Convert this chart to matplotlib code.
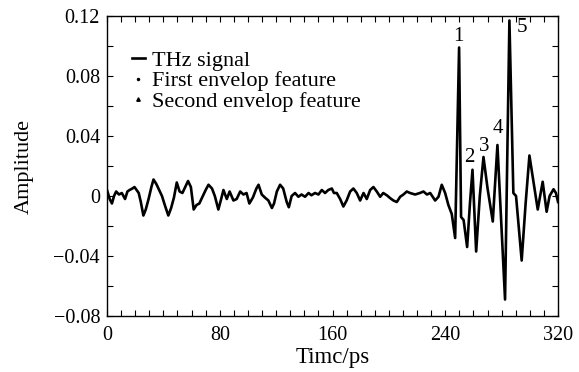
import matplotlib
matplotlib.use("Agg")
import matplotlib.pyplot as plt
from matplotlib.ticker import MultipleLocator

plt.rcParams['font.family'] = ['Liberation Serif', 'DejaVu Serif']
plt.rcParams['font.size'] = 14.5

# THz time-domain signal (time in ps, amplitude)
tiempo = [0, 1.9, 3.5, 5, 6.5, 8.5, 10.5, 12.8, 14.5, 16, 18, 19.5, 21, 22.5, 24,
          25.8, 27.5, 29.5, 31.5, 33, 35, 37, 39, 41, 43.5, 45.5, 47.5, 49.5, 51.5,
          53.5, 55.5, 57.5, 59.5, 61.5, 63.5, 65.5, 67.5, 70, 72, 74.5, 76.5, 79,
          81, 82.6, 85, 87, 89.7, 92, 94.5, 96.8, 99, 101, 103.5, 106, 107.5,
          109.8, 112, 114.5, 117, 118.5, 120.5, 122.8, 125, 127.5, 129, 131,
          133.4, 135.8, 138, 140.5, 143, 145, 147.6, 150, 152.4, 154.7, 157,
          159.5, 161, 163, 165.4, 167.7, 170, 172.5, 174.8, 177.2, 179.6, 182,
          184.3, 186.7, 189, 191.4, 193.8, 196, 198.5, 201, 203.2, 205.6, 208,
          210.3, 212.7, 215, 218.6, 222, 224.5, 227, 229.3, 232.8, 235.2, 237.5,
          239.9, 242.2, 244.6, 247, 249.8, 251.2, 253, 255.5, 257.5, 259.3,
          261.9, 264.5, 267.1, 270, 273.7, 277, 282.4, 285.5, 288.3, 290.2,
          294.2, 297, 299.7, 302.5, 305.6, 309.1, 311.9, 314, 316.8, 318.5, 320]
amplitud = [0.004, -0.002, -0.005, 0.000, 0.003, 0.001, 0.002, -0.002, 0.003, 0.004,
            0.005, 0.006, 0.004, 0.002, -0.004, -0.013, -0.009, -0.002, 0.006, 0.011,
            0.008, 0.004, 0.000, -0.006, -0.013, -0.008, -0.001, 0.009, 0.003, 0.002,
            0.006, 0.010, 0.006, -0.009, -0.006, -0.005, -0.001, 0.004, 0.0075, 0.005,
            0.000, -0.009, -0.002, 0.004, -0.002, 0.003, -0.003, -0.002, 0.003, 0.001,
            0.002, -0.005, -0.001, 0.005, 0.0075, 0.001, -0.001, -0.003, -0.008,
            -0.005, 0.003, 0.0075, 0.005, -0.004, -0.0075, 0.000, 0.002, -0.0005,
            0.001, -0.0005, 0.002, 0.0005, 0.002, 0.001, 0.004, 0.002, 0.004, 0.005,
            0.002, 0.002, -0.002, -0.007, -0.003, 0.003, 0.005, 0.002, -0.003, 0.002,
            -0.002, 0.004, 0.006, 0.003, -0.0005, 0.002, 0.0005, -0.0015, -0.003,
            -0.004, -0.0005, 0.001, 0.003, 0.002, 0.001, 0.002, 0.003, 0.001, 0.002,
            -0.003, -0.0005, 0.0075, 0.002, -0.006, -0.012, -0.028, 0.099, -0.014,
            -0.016, -0.034, -0.005, 0.0175, -0.037, 0.000, 0.026, 0.005, -0.017,
            0.034, -0.069, 0.117, 0.002, 0.000, -0.043, -0.005, 0.027, 0.010, -0.009,
            0.0095, -0.0105, 0.000, 0.0045, 0.002, -0.004]

# etiquetas de los picos
picos = ['1', '2', '3', '4', '5']
picos_t = [249.1, 257.2, 267.9, 277.2, 294.5]
picos_a = [0.106, 0.026, 0.0327, 0.0453, 0.112]

xticks = [0, 80, 160, 240, 320]
yticks = [-0.08, -0.04, 0, 0.04, 0.08, 0.12]
ytick_labels = ['\u22120.08', '\u22120.04', '0', '0.04', '0.08', '0.12']

fig = plt.figure(figsize=(5.79, 3.72), dpi=100)
ax = fig.add_axes([0.1848, 0.1505, 0.779, 0.8065])

ax.plot(tiempo, amplitud, color='black', lw=1.9, label='THz signal')
ax.plot([], [], '.', color='black', ms=3, label='First envelop feature')
ax.plot([], [], '^', color='black', ms=2.5, label='Second envelop feature')

for p, t, a in zip(picos, picos_t, picos_a):
    ax.text(t, a, p, ha='center', va='center', fontsize=15)

ax.set_xlim(0, 320)
ax.set_ylim(-0.08, 0.12)
ax.set_xticks(xticks)
ax.set_yticks(yticks)
ax.set_yticklabels(ytick_labels)
ax.xaxis.set_minor_locator(MultipleLocator(10))
ax.yaxis.set_minor_locator(MultipleLocator(0.02))
ax.tick_params(which='both', direction='in', top=True, right=True, length=4, width=0.8)
ax.tick_params(axis='x', pad=7.5)
ax.tick_params(axis='y', pad=5)
for s in ax.spines.values():
    s.set_linewidth(1.0)

ax.set_xlabel('Timc/ps', labelpad=1, fontsize=16.5)
ax.set_ylabel('Amplitude', labelpad=14, fontsize=16)

ax.legend(loc='upper left', bbox_to_anchor=(0.035, 0.915), frameon=False,
          handlelength=0.6, handletextpad=0.3, labelspacing=0.0,
          borderaxespad=0, fontsize=16)

fig.savefig('out.png', dpi=100)
